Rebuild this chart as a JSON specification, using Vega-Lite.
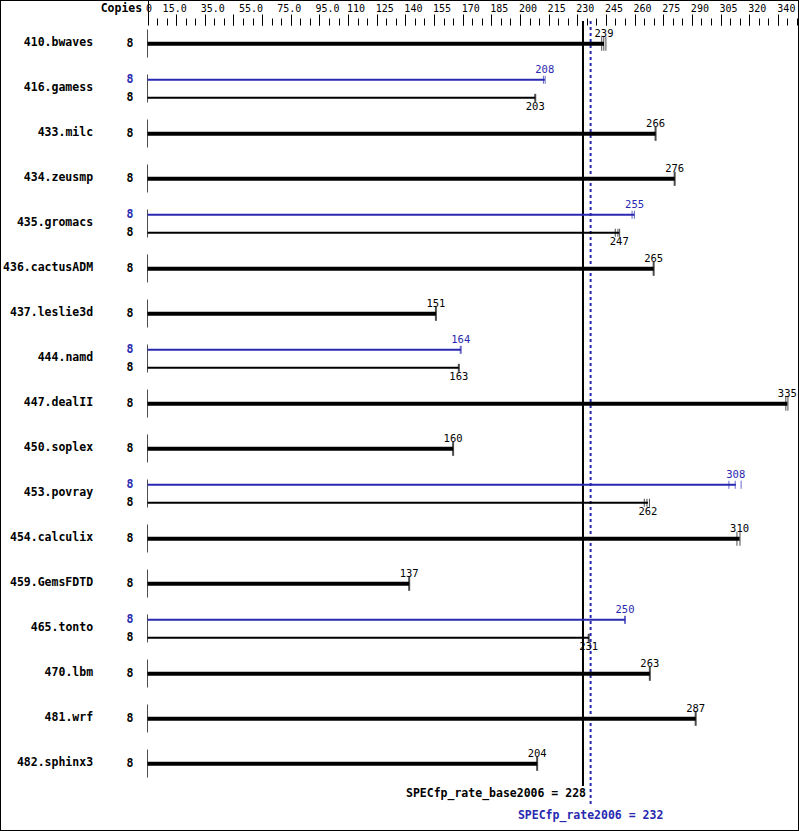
{
  "$schema": "https://vega.github.io/schema/vega-lite/v6.json",
  "width": 799,
  "height": 831,
  "autosize": {"type": "none"},
  "padding": 0,
  "background": "white",
  "config": {"view": {"stroke": "black", "strokeWidth": 2}, "font": "DejaVu Sans Mono"},
  "resolve": {"axis": {"x": "independent"}},
  "datasets": {
    "bench": [
      {"name": "410.bwaves"}, {"name": "416.gamess"}, {"name": "433.milc"}, {"name": "434.zeusmp"},
      {"name": "435.gromacs"}, {"name": "436.cactusADM"}, {"name": "437.leslie3d"}, {"name": "444.namd"},
      {"name": "447.dealII"}, {"name": "450.soplex"}, {"name": "453.povray"}, {"name": "454.calculix"},
      {"name": "459.GemsFDTD"}, {"name": "465.tonto"}, {"name": "470.lbm"}, {"name": "481.wrf"}, {"name": "482.sphinx3"}
    ],
    "results": [
      {"name": "410.bwaves", "series": "both", "value": 239, "copies": 8},
      {"name": "416.gamess", "series": "peak", "value": 208, "copies": 8},
      {"name": "416.gamess", "series": "base", "value": 203, "copies": 8},
      {"name": "433.milc", "series": "both", "value": 266, "copies": 8},
      {"name": "434.zeusmp", "series": "both", "value": 276, "copies": 8},
      {"name": "435.gromacs", "series": "peak", "value": 255, "copies": 8},
      {"name": "435.gromacs", "series": "base", "value": 247, "copies": 8},
      {"name": "436.cactusADM", "series": "both", "value": 265, "copies": 8},
      {"name": "437.leslie3d", "series": "both", "value": 151, "copies": 8},
      {"name": "444.namd", "series": "peak", "value": 164, "copies": 8},
      {"name": "444.namd", "series": "base", "value": 163, "copies": 8},
      {"name": "447.dealII", "series": "both", "value": 335, "copies": 8},
      {"name": "450.soplex", "series": "both", "value": 160, "copies": 8},
      {"name": "453.povray", "series": "peak", "value": 308, "copies": 8},
      {"name": "453.povray", "series": "base", "value": 262, "copies": 8},
      {"name": "454.calculix", "series": "both", "value": 310, "copies": 8},
      {"name": "459.GemsFDTD", "series": "both", "value": 137, "copies": 8},
      {"name": "465.tonto", "series": "peak", "value": 250, "copies": 8},
      {"name": "465.tonto", "series": "base", "value": 231, "copies": 8},
      {"name": "470.lbm", "series": "both", "value": 263, "copies": 8},
      {"name": "481.wrf", "series": "both", "value": 287, "copies": 8},
      {"name": "482.sphinx3", "series": "both", "value": 204, "copies": 8}
    ],
    "runs": [
      {"name": "410.bwaves", "series": "both", "run": 237.8},
      {"name": "410.bwaves", "series": "both", "run": 238.9},
      {"name": "410.bwaves", "series": "both", "run": 240.0},
      {"name": "416.gamess", "series": "peak", "run": 207.3},
      {"name": "416.gamess", "series": "peak", "run": 208.2},
      {"name": "416.gamess", "series": "base", "run": 203},
      {"name": "433.milc", "series": "both", "run": 266},
      {"name": "434.zeusmp", "series": "both", "run": 276},
      {"name": "435.gromacs", "series": "peak", "run": 253.7},
      {"name": "435.gromacs", "series": "peak", "run": 254.9},
      {"name": "435.gromacs", "series": "base", "run": 244.9},
      {"name": "435.gromacs", "series": "base", "run": 246.3},
      {"name": "435.gromacs", "series": "base", "run": 247.2},
      {"name": "436.cactusADM", "series": "both", "run": 265},
      {"name": "437.leslie3d", "series": "both", "run": 151},
      {"name": "444.namd", "series": "peak", "run": 164},
      {"name": "444.namd", "series": "base", "run": 163},
      {"name": "447.dealII", "series": "both", "run": 334.2},
      {"name": "447.dealII", "series": "both", "run": 335.3},
      {"name": "450.soplex", "series": "both", "run": 160},
      {"name": "453.povray", "series": "peak", "run": 304.4},
      {"name": "453.povray", "series": "peak", "run": 307.7},
      {"name": "453.povray", "series": "peak", "run": 310.8},
      {"name": "453.povray", "series": "base", "run": 260.1},
      {"name": "453.povray", "series": "base", "run": 261.5},
      {"name": "453.povray", "series": "base", "run": 262.8},
      {"name": "454.calculix", "series": "both", "run": 308.6},
      {"name": "454.calculix", "series": "both", "run": 310.2},
      {"name": "459.GemsFDTD", "series": "both", "run": 137},
      {"name": "465.tonto", "series": "peak", "run": 250},
      {"name": "465.tonto", "series": "base", "run": 231},
      {"name": "470.lbm", "series": "both", "run": 263},
      {"name": "481.wrf", "series": "both", "run": 287},
      {"name": "482.sphinx3", "series": "both", "run": 204}
    ],
    "overall": [
      {"metric": "base", "value": 228, "label": "SPECfp_rate_base2006 = 228"},
      {"metric": "peak", "value": 232, "label": "SPECfp_rate2006 = 232"}
    ]
  },
  "layer": [
    {
      "data": {"name": "bench"},
      "mark": {"type": "tick", "thickness": 1, "color": "black"},
      "encoding": {
        "x": {"datum": 0, "type": "quantitative", "scale": {"domain": [-77.23, 341.1], "nice": false, "zero": false},
          "axis": {"orient": "top", "offset": -25, "domain": false, "grid": false, "title": null, "labels": false, "values": [0], "tickSize": 25, "tickColor": "black", "tickWidth": 1}},
        "y": {"field": "name", "type": "nominal", "scale": {"type": "band", "domain": ["410.bwaves","416.gamess","433.milc","434.zeusmp","435.gromacs","436.cactusADM","437.leslie3d","444.namd","447.dealII","450.soplex","453.povray","454.calculix","459.GemsFDTD","465.tonto","470.lbm","481.wrf","482.sphinx3","footer"], "paddingInner": 0, "paddingOuter": 0.2333, "align": 1}, "axis": null},
        "size": {"value": 28}
      }
    },
    {
      "data": {"name": "overall"},
      "transform": [{"filter": "datum.metric == 'base'"}],
      "mark": {"type": "rule", "color": "black", "strokeWidth": 2},
      "encoding": {
        "x": {"field": "value", "type": "quantitative", "scale": {"domain": [-77.23, 341.1], "nice": false, "zero": false}, "axis": null},
        "y": {"datum": "410.bwaves", "type": "nominal", "bandPosition": 0, "scale": {"type": "band", "domain": ["410.bwaves","416.gamess","433.milc","434.zeusmp","435.gromacs","436.cactusADM","437.leslie3d","444.namd","447.dealII","450.soplex","453.povray","454.calculix","459.GemsFDTD","465.tonto","470.lbm","481.wrf","482.sphinx3","footer"], "paddingInner": 0, "paddingOuter": 0.2333, "align": 1}, "axis": null},
        "y2": {"datum": "footer", "bandPosition": 0}
      }
    },
    {
      "data": {"name": "overall"},
      "transform": [{"filter": "datum.metric == 'peak'"}],
      "mark": {"type": "rule", "color": "#2828b0", "strokeWidth": 2, "strokeDash": [3, 3]},
      "encoding": {
        "x": {"field": "value", "type": "quantitative", "scale": {"domain": [-77.23, 341.1], "nice": false, "zero": false}, "axis": null},
        "y": {"datum": "410.bwaves", "type": "nominal", "bandPosition": 0, "scale": {"type": "band", "domain": ["410.bwaves","416.gamess","433.milc","434.zeusmp","435.gromacs","436.cactusADM","437.leslie3d","444.namd","447.dealII","450.soplex","453.povray","454.calculix","459.GemsFDTD","465.tonto","470.lbm","481.wrf","482.sphinx3","footer"], "paddingInner": 0, "paddingOuter": 0.2333, "align": 1}, "axis": null},
        "y2": {"datum": "footer", "bandPosition": 0.46}
      }
    },
    {
      "data": {"name": "results"},
      "mark": {"type": "rule"},
      "encoding": {
        "x": {"field": "value", "type": "quantitative", "scale": {"domain": [-77.23, 341.1], "nice": false, "zero": false},
          "axis": {
            "orient": "top", "offset": -25, "domain": false, "grid": false, "title": null,
            "ticks": false, "tickSize": 0,
            "values": [-2,0,15,35,55,75,95,110,125,140,155,170,185,200,215,230,245,260,275,290,305,320,340],
            "labelExpr": "datum.value == -2 ? 'Copies' : datum.value == 0 ? '0' : datum.value < 100 ? format(datum.value, '.1f') : format(datum.value, 'd')",
            "labelFont": "DejaVu Sans Mono",
            "labelColor": "black",
            "labelFontSize": {"condition": {"test": "datum.value == -2", "value": 11.5}, "value": 10},
            "labelFontWeight": {"condition": {"test": "datum.value == -2", "value": "bold"}, "value": "normal"},
            "labelAlign": {"condition": [{"test": "datum.value == -2 || datum.value == 340", "value": "right"}, {"test": "datum.value == 0", "value": "left"}], "value": "center"},
            "labelOffset": -2,
            "labelPadding": 12,
            "labelOverlap": false, "labelBound": false, "labelFlush": false
          }
        },
        "x2": {"datum": 0},
        "y": {"field": "name", "type": "nominal", "scale": {"type": "band", "domain": ["410.bwaves","416.gamess","433.milc","434.zeusmp","435.gromacs","436.cactusADM","437.leslie3d","444.namd","447.dealII","450.soplex","453.povray","454.calculix","459.GemsFDTD","465.tonto","470.lbm","481.wrf","482.sphinx3","footer"], "paddingInner": 0, "paddingOuter": 0.2333, "align": 1}, "axis": null},
        "yOffset": {"field": "series", "type": "nominal", "scale": {"type": "band", "domain": ["peak", "both", "base"], "paddingInner": 0, "paddingOuter": 2.25, "align": 0.5185}},
        "color": {"field": "series", "type": "nominal", "scale": {"domain": ["peak", "both", "base"], "range": ["#2828b0", "black", "black"]}, "legend": null},
        "strokeWidth": {"condition": {"test": "datum.series == 'both'", "value": 4}, "value": 2}
      }
    },
    {
      "data": {"name": "runs"},
      "transform": [
        {"joinaggregate": [{"op": "count", "as": "n"}], "groupby": ["name", "series"]},
        {"filter": "datum.n > 1"}
      ],
      "mark": {"type": "tick", "thickness": 1},
      "encoding": {
        "x": {"field": "run", "type": "quantitative", "scale": {"domain": [-77.23, 341.1], "nice": false, "zero": false},
          "axis": {"orient": "top", "offset": -25, "domain": false, "grid": false, "title": null, "labels": false, "tickSize": 7, "tickColor": "black", "tickWidth": 1,
            "values": [5,10,15,20,25,30,35,40,45,50,55,60,65,70,75,80,85,90,95,100,105,110,115,120,125,130,135,140,145,150,155,160,165,170,175,180,185,190,195,200,205,210,215,220,225,230,235,240,245,250,255,260,265,270,275,280,285,290,295,300,305,310,315,320,325,330,335,340]}},
        "y": {"field": "name", "type": "nominal", "scale": {"type": "band", "domain": ["410.bwaves","416.gamess","433.milc","434.zeusmp","435.gromacs","436.cactusADM","437.leslie3d","444.namd","447.dealII","450.soplex","453.povray","454.calculix","459.GemsFDTD","465.tonto","470.lbm","481.wrf","482.sphinx3","footer"], "paddingInner": 0, "paddingOuter": 0.2333, "align": 1}, "axis": null},
        "yOffset": {"field": "series", "type": "nominal", "scale": {"type": "band", "domain": ["peak", "both", "base"], "paddingInner": 0, "paddingOuter": 2.25, "align": 0.5185}},
        "color": {"field": "series", "type": "nominal", "scale": {"domain": ["peak", "both", "base"], "range": ["#2828b0", "black", "black"]}, "legend": null},
        "size": {"condition": {"test": "datum.series == 'both'", "value": 14}, "value": 8}
      }
    },
    {
      "data": {"name": "runs"},
      "transform": [
        {"joinaggregate": [{"op": "count", "as": "n"}], "groupby": ["name", "series"]},
        {"filter": "datum.n == 1"}
      ],
      "mark": {"type": "tick", "thickness": 2},
      "encoding": {
        "x": {"field": "run", "type": "quantitative", "scale": {"domain": [-77.23, 341.1], "nice": false, "zero": false},
          "axis": {"orient": "top", "offset": -25, "domain": false, "grid": false, "title": null, "labels": false, "tickSize": 11, "tickColor": "black", "tickWidth": 1,
            "values": [15,30,45,60,75,90,105,120,135,150,165,180,195,210,225,240,255,270,285,300,315,330]}},
        "y": {"field": "name", "type": "nominal", "scale": {"type": "band", "domain": ["410.bwaves","416.gamess","433.milc","434.zeusmp","435.gromacs","436.cactusADM","437.leslie3d","444.namd","447.dealII","450.soplex","453.povray","454.calculix","459.GemsFDTD","465.tonto","470.lbm","481.wrf","482.sphinx3","footer"], "paddingInner": 0, "paddingOuter": 0.2333, "align": 1}, "axis": null},
        "yOffset": {"field": "series", "type": "nominal", "scale": {"type": "band", "domain": ["peak", "both", "base"], "paddingInner": 0, "paddingOuter": 2.25, "align": 0.5185}},
        "color": {"field": "series", "type": "nominal", "scale": {"domain": ["peak", "both", "base"], "range": ["#2828b0", "black", "black"]}, "legend": null},
        "size": {"condition": {"test": "datum.series == 'both'", "value": 14}, "value": 8}
      }
    },
    {
      "data": {"name": "results"},
      "transform": [{"filter": "datum.series != 'base'"}],
      "mark": {"type": "text", "align": "center", "baseline": "alphabetic", "dy": -7, "fontSize": 10.5, "font": "DejaVu Sans Mono"},
      "encoding": {
        "x": {"field": "value", "type": "quantitative", "scale": {"domain": [-77.23, 341.1], "nice": false, "zero": false}, "axis": null},
        "y": {"field": "name", "type": "nominal", "scale": {"type": "band", "domain": ["410.bwaves","416.gamess","433.milc","434.zeusmp","435.gromacs","436.cactusADM","437.leslie3d","444.namd","447.dealII","450.soplex","453.povray","454.calculix","459.GemsFDTD","465.tonto","470.lbm","481.wrf","482.sphinx3","footer"], "paddingInner": 0, "paddingOuter": 0.2333, "align": 1}, "axis": null},
        "yOffset": {"field": "series", "type": "nominal", "scale": {"type": "band", "domain": ["peak", "both", "base"], "paddingInner": 0, "paddingOuter": 2.25, "align": 0.5185}},
        "color": {"field": "series", "type": "nominal", "scale": {"domain": ["peak", "both", "base"], "range": ["#2828b0", "black", "black"]}, "legend": null},
        "text": {"field": "value", "type": "quantitative"}
      }
    },
    {
      "data": {"name": "results"},
      "transform": [{"filter": "datum.series == 'base'"}],
      "mark": {"type": "text", "align": "center", "baseline": "top", "dy": 4, "fontSize": 10.5, "font": "DejaVu Sans Mono"},
      "encoding": {
        "x": {"field": "value", "type": "quantitative", "scale": {"domain": [-77.23, 341.1], "nice": false, "zero": false}, "axis": null},
        "y": {"field": "name", "type": "nominal", "scale": {"type": "band", "domain": ["410.bwaves","416.gamess","433.milc","434.zeusmp","435.gromacs","436.cactusADM","437.leslie3d","444.namd","447.dealII","450.soplex","453.povray","454.calculix","459.GemsFDTD","465.tonto","470.lbm","481.wrf","482.sphinx3","footer"], "paddingInner": 0, "paddingOuter": 0.2333, "align": 1}, "axis": null},
        "yOffset": {"field": "series", "type": "nominal", "scale": {"type": "band", "domain": ["peak", "both", "base"], "paddingInner": 0, "paddingOuter": 2.25, "align": 0.5185}},
        "color": {"field": "series", "type": "nominal", "scale": {"domain": ["peak", "both", "base"], "range": ["#2828b0", "black", "black"]}, "legend": null},
        "text": {"field": "value", "type": "quantitative"}
      }
    },
    {
      "data": {"name": "bench"},
      "mark": {"type": "text", "align": "right", "baseline": "middle", "fontSize": 11.5, "fontWeight": "bold", "font": "DejaVu Sans Mono", "color": "black"},
      "encoding": {
        "x": {"datum": -28.5, "type": "quantitative", "scale": {"domain": [-77.23, 341.1], "nice": false, "zero": false}, "axis": null},
        "y": {"field": "name", "type": "nominal", "scale": {"type": "band", "domain": ["410.bwaves","416.gamess","433.milc","434.zeusmp","435.gromacs","436.cactusADM","437.leslie3d","444.namd","447.dealII","450.soplex","453.povray","454.calculix","459.GemsFDTD","465.tonto","470.lbm","481.wrf","482.sphinx3","footer"], "paddingInner": 0, "paddingOuter": 0.2333, "align": 1}, "axis": null},
        "text": {"field": "name", "type": "nominal"}
      }
    },
    {
      "data": {"name": "results"},
      "mark": {"type": "text", "align": "center", "baseline": "middle", "fontSize": 11.5, "fontWeight": "bold", "font": "DejaVu Sans Mono"},
      "encoding": {
        "x": {"datum": -9.16, "type": "quantitative", "scale": {"domain": [-77.23, 341.1], "nice": false, "zero": false}, "axis": null},
        "y": {"field": "name", "type": "nominal", "scale": {"type": "band", "domain": ["410.bwaves","416.gamess","433.milc","434.zeusmp","435.gromacs","436.cactusADM","437.leslie3d","444.namd","447.dealII","450.soplex","453.povray","454.calculix","459.GemsFDTD","465.tonto","470.lbm","481.wrf","482.sphinx3","footer"], "paddingInner": 0, "paddingOuter": 0.2333, "align": 1}, "axis": null},
        "yOffset": {"field": "series", "type": "nominal", "scale": {"type": "band", "domain": ["peak", "both", "base"], "paddingInner": 0, "paddingOuter": 2.25, "align": 0.5185}},
        "color": {"field": "series", "type": "nominal", "scale": {"domain": ["peak", "both", "base"], "range": ["#2828b0", "black", "black"]}, "legend": null},
        "text": {"field": "copies", "type": "nominal"}
      }
    },
    {
      "data": {"name": "overall"},
      "transform": [{"filter": "datum.metric == 'base'"}],
      "mark": {"type": "text", "align": "right", "baseline": "alphabetic", "dx": 3, "dy": 11.5, "fontSize": 11.5, "fontWeight": "bold", "font": "DejaVu Sans Mono", "color": "black"},
      "encoding": {
        "x": {"field": "value", "type": "quantitative", "scale": {"domain": [-77.23, 341.1], "nice": false, "zero": false}, "axis": null},
        "y": {"datum": "footer", "type": "nominal", "bandPosition": 0, "scale": {"type": "band", "domain": ["410.bwaves","416.gamess","433.milc","434.zeusmp","435.gromacs","436.cactusADM","437.leslie3d","444.namd","447.dealII","450.soplex","453.povray","454.calculix","459.GemsFDTD","465.tonto","470.lbm","481.wrf","482.sphinx3","footer"], "paddingInner": 0, "paddingOuter": 0.2333, "align": 1}, "axis": null},
        "text": {"field": "label", "type": "nominal"}
      }
    },
    {
      "data": {"name": "overall"},
      "transform": [{"filter": "datum.metric == 'peak'"}],
      "mark": {"type": "text", "align": "center", "baseline": "alphabetic", "dy": 33.5, "fontSize": 11.5, "fontWeight": "bold", "font": "DejaVu Sans Mono", "color": "#2828b0"},
      "encoding": {
        "x": {"field": "value", "type": "quantitative", "scale": {"domain": [-77.23, 341.1], "nice": false, "zero": false}, "axis": null},
        "y": {"datum": "footer", "type": "nominal", "bandPosition": 0, "scale": {"type": "band", "domain": ["410.bwaves","416.gamess","433.milc","434.zeusmp","435.gromacs","436.cactusADM","437.leslie3d","444.namd","447.dealII","450.soplex","453.povray","454.calculix","459.GemsFDTD","465.tonto","470.lbm","481.wrf","482.sphinx3","footer"], "paddingInner": 0, "paddingOuter": 0.2333, "align": 1}, "axis": null},
        "text": {"field": "label", "type": "nominal"}
      }
    }
  ]
}
